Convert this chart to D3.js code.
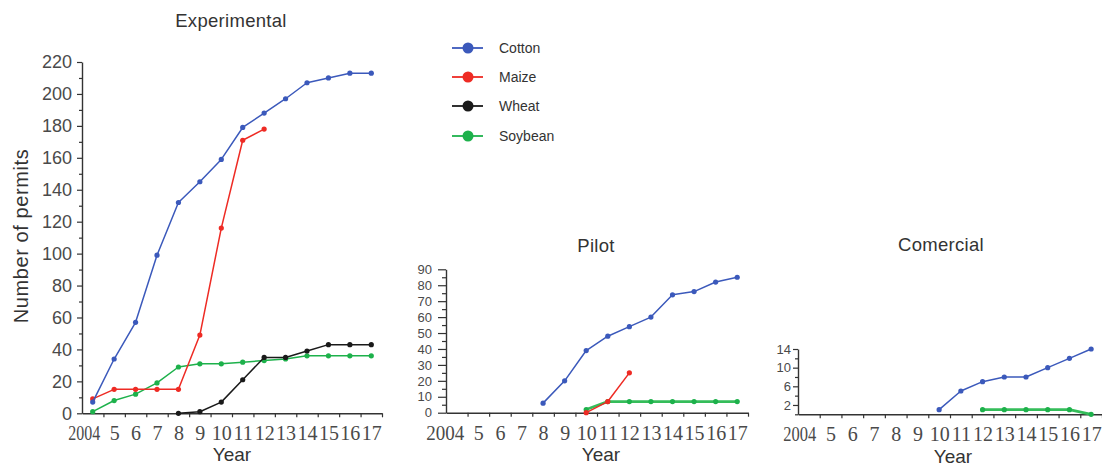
<!DOCTYPE html>
<html><head><meta charset="utf-8">
<script src="https://cdn.jsdelivr.net/npm/d3@7"></script>
<style>body{margin:0;background:#fff} svg{display:block}</style>
</head><body><svg id="c" width="1102" height="466"></svg>
<script>
const years = [2004,2005,2006,2007,2008,2009,2010,2011,2012,2013,2014,2015,2016,2017];
const yearLabels = ["2004","5","6","7","8","9","10","11","12","13","14","15","16","17"];
const seriesNames = ["Cotton","Maize","Wheat","Soybean"];
const seriesColors = ["#3b59bb","#ee2b24","#1a1a1a","#1db14b"];

const expCotton  = [7,34,57,99,132,145,159,179,188,197,207,210,213,213];
const expMaize   = [9,15,15,15,15,49,116,171,178,null,null,null,null,null];
const expWheat   = [null,null,null,null,0,1,7,21,35,35,39,43,43,43];
const expSoybean = [1,8,12,19,29,31,31,32,33,34,36,36,36,36];

const pilotCotton  = [null,null,null,null,6,20,39,48,54,60,74,76,82,85];
const pilotMaize   = [null,null,null,null,null,null,0,7,25,null,null,null,null,null];
const pilotWheat   = [null,null,null,null,null,null,null,null,null,null,null,null,null,null];
const pilotSoybean = [null,null,null,null,null,null,2,7,7,7,7,7,7,7];

const comCotton  = [null,null,null,null,null,null,1,5,7,8,8,10,12,14];
const comMaize   = [null,null,null,null,null,null,null,null,null,null,null,null,null,null];
const comWheat   = [null,null,null,null,null,null,null,null,null,null,null,null,null,null];
const comSoybean = [null,null,null,null,null,null,null,null,1,1,1,1,1,0];

const expYMajor = [0,20,40,60,80,100,120,140,160,180,200,220];
const expYMinor = [10,30,50,70,90,110,130,150,170,190,210];
const pilotYMajor = [0,10,20,30,40,50,60,70,80,90];
const pilotYMinor = [5,15,25,35,45,55,65,75,85];
const comYMajor = [2,6,10,14];
const comYMinor = [0,4,8,12];

const svg = d3.select("#c");

const panels = [
  {title:"Experimental", data:[expCotton,expMaize,expWheat,expSoybean], xr:[82,382], yr:[413.3,62], ymax:220,
   major:expYMajor, minor:expYMinor, majorSize:5, minorSize:3, pad:5, yfont:18,
   titleX:231, titleY:27, yearX:232, yearY:461, w2004:32, thickGreen:false},
  {title:"Pilot", data:[pilotCotton,pilotMaize,pilotWheat,pilotSoybean], xr:[446,748], yr:[412.7,269.3], ymax:90,
   major:pilotYMajor, minor:pilotYMinor, majorSize:8, minorSize:4, pad:6, yfont:13,
   titleX:596, titleY:252, yearX:601, yearY:461, w2004:38, thickGreen:true},
  {title:"Comercial", data:[comCotton,comMaize,comWheat,comSoybean], xr:[798,1102], yr:[414.3,349], ymax:14,
   major:comYMajor, minor:comYMinor, majorSize:5, minorSize:3, pad:2, yfont:13,
   titleX:941, titleY:251, yearX:953, yearY:463, w2004:33, thickGreen:true}
];

panels.forEach(p => {
  const g = svg.append("g");
  const x = d3.scaleLinear().domain([2003.5, 2017.5]).range(p.xr);
  const y = d3.scaleLinear().domain([0, p.ymax]).range(p.yr);

  // x axis: ticks at year boundaries
  const xa = g.append("g").attr("transform", `translate(0,${y(0)})`)
    .call(d3.axisBottom(x).tickValues(d3.range(2004.5, 2018, 1)).tickSize(4).tickSizeOuter(0).tickFormat(""));
  xa.select(".domain").attr("stroke","#333").attr("stroke-width",1.4);
  xa.selectAll(".tick line").attr("stroke","#333").attr("stroke-width",1.2);

  // x labels at year centres
  const xl = g.append("g").attr("transform", `translate(0,${y(0)})`)
    .call(d3.axisBottom(x).tickValues(years).tickSize(0).tickFormat((d,i)=>yearLabels[i]));
  xl.select(".domain").remove();
  xl.selectAll("text").attr("dy",null).attr("y",27)
    .attr("font-family","'Liberation Serif', serif").attr("font-size",20).attr("fill","#4a4a4a");
  xl.selectAll(".tick").filter(d => d === 2004).select("text")
    .attr("text-anchor","end").attr("x",7)
    .attr("textLength",p.w2004).attr("lengthAdjust","spacingAndGlyphs");

  // y axis
  const ym = g.append("g").attr("transform", `translate(${p.xr[0]},0)`)
    .call(d3.axisLeft(y).tickValues(p.minor).tickSize(p.minorSize).tickSizeOuter(0).tickFormat(""));
  ym.select(".domain").remove();
  ym.selectAll(".tick line").attr("stroke","#333").attr("stroke-width",1.2);
  const yM = g.append("g").attr("transform", `translate(${p.xr[0]},0)`)
    .call(d3.axisLeft(y).tickValues(p.major).tickSize(p.majorSize).tickSizeOuter(0).tickPadding(p.pad));
  yM.select(".domain").attr("stroke","#333").attr("stroke-width",1.4);
  yM.selectAll(".tick line").attr("stroke","#333").attr("stroke-width",1.2);
  yM.selectAll("text").attr("font-family","'Liberation Sans', Arial, sans-serif")
    .attr("font-size",p.yfont).attr("fill","#4a4a4a");

  // lines
  const order = [3,1,0,2];
  order.forEach(si => {
    const pts = years.map((yr,i) => ({year:yr, v:p.data[si][i]}));
    const valid = pts.filter(d => d.v != null);
    if (!valid.length) return;
    const green = si === 3;
    const line = d3.line().defined(d => d.v != null).x(d => x(d.year)).y(d => y(d.v));
    g.append("path").datum(pts).attr("d", line).attr("fill","none")
      .attr("stroke", green && p.thickGreen ? "#35bd5a" : seriesColors[si])
      .attr("stroke-width", green && p.thickGreen ? 2.8 : 1.5)
      .attr("stroke-linejoin","round");
    g.selectAll(null).data(valid).join("circle")
      .attr("cx", d => x(d.year)).attr("cy", d => y(d.v)).attr("r", 2.6)
      .attr("fill", seriesColors[si]);
  });

  g.append("text").attr("x",p.titleX).attr("y",p.titleY).attr("text-anchor","middle")
    .attr("font-family","'Liberation Sans', Arial, sans-serif").attr("font-size",18.5)
    .attr("letter-spacing",0.3).attr("fill","#333").text(p.title);
  g.append("text").attr("x",p.yearX).attr("y",p.yearY).attr("text-anchor","middle")
    .attr("font-family","'Liberation Sans', Arial, sans-serif").attr("font-size",19)
    .attr("fill","#333").text("Year");
});

// y label
svg.append("text").attr("transform","translate(28,236) rotate(-90)").attr("text-anchor","middle")
  .attr("font-family","'Liberation Sans', Arial, sans-serif").attr("font-size",20)
  .attr("letter-spacing",0.6).attr("fill","#333").text("Number of permits");

// legend
const legY = [48, 77, 106, 136];
const leg = svg.append("g");
seriesNames.forEach((n,i) => {
  leg.append("line").attr("x1",452).attr("x2",483).attr("y1",legY[i]).attr("y2",legY[i])
    .attr("stroke",seriesColors[i]).attr("stroke-width",1.8);
  leg.append("circle").attr("cx",468).attr("cy",legY[i]).attr("r",5.5).attr("fill",seriesColors[i]);
  leg.append("text").attr("x",499).attr("y",legY[i]+5).attr("font-family","'Liberation Sans', Arial, sans-serif")
    .attr("font-size",14).attr("fill","#333").text(n);
});
</script>
</body></html>
